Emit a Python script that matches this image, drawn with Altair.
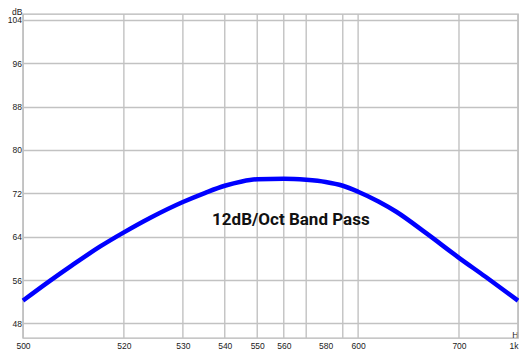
import altair as alt
import pandas as pd

# frequency position (log units) and response level in dB
freq = [1.0, 1.2, 1.4, 1.7, 2.0, 2.4, 3.0, 3.5, 4.0, 4.5, 5.0, 6.0, 7.0, 8.0, 9.0, 10.0, 11.5, 13.0, 16.0, 20.0, 24.0, 30.0]
level = [52.2, 55.8, 58.7, 62.2, 64.8, 67.5, 70.4, 72.1, 73.4, 74.2, 74.6, 74.7, 74.5, 74.1, 73.4, 72.3, 70.5, 68.6, 64.6, 60.1, 56.6, 52.2]

grid_x = [1, 2, 3, 4, 5, 6, 7, 9, 10, 20, 30]
tick_pos = [1, 2, 3, 4, 5, 6, 8, 10, 20, 30]
tick_text = ["500", "520", "530", "540", "550", "560", "580", "600", "700", "1k"]
y_ticks = [48, 56, 64, 72, 80, 88, 96, 104]

note_x = [6.3]
note_y = [67.0]
note_text = ["12dB/Oct Band Pass"]

curve_df = pd.DataFrame({"f": freq, "db": level})
grid_df = pd.DataFrame({"f": grid_x})
note_df = pd.DataFrame({"f": note_x, "db": note_y, "t": note_text})

expr = ""
for p, t in zip(tick_pos, tick_text):
    expr += f"datum.value == {p} ? '{t}' : "
expr += "''"

W, H = 495, 324
GRID = "#c2c2c2"
TXT = "#222222"
FONT = "Liberation Sans"
xs = alt.Scale(type="log", domain=[1, 30], nice=False)
ys = alt.Scale(domain=[45.3, 105.1], nice=False, zero=False)

x_axis = alt.Axis(values=tick_pos, labelExpr=expr, grid=False, ticks=False, domain=False,
                  labelFlush=False, labelOverlap=False, labelPadding=3, labelFontSize=8.5,
                  labelFont=FONT, labelColor=TXT,
                  labelAlign={"condition": {"test": "datum.value == 30", "value": "right"}, "value": "center"},
                  title="H", titleX=W, titleY=1, titleBaseline="bottom", titleAlign="right",
                  titleFontWeight="normal", titleFontSize=8.5, titleFont=FONT, titleColor=TXT)
y_axis = alt.Axis(values=y_ticks, grid=True, gridColor=GRID, gridWidth=1.4, ticks=False,
                  domain=False, labelPadding=1.5, labelFontSize=8.5, labelFont=FONT,
                  labelColor=TXT,
                  title="dB", titleAngle=0, titleX=-1, titleY=0.5, titleAlign="right",
                  titleBaseline="alphabetic", titleFontWeight="normal", titleFontSize=8.5,
                  titleFont=FONT, titleColor=TXT)

rules = alt.Chart(grid_df).mark_rule(color=GRID, strokeWidth=1.4).encode(
    x=alt.X("f:Q", scale=xs, axis=x_axis)
)

line = alt.Chart(curve_df).mark_line(color="#0000ff", strokeWidth=4.5, interpolate="monotone").encode(
    x=alt.X("f:Q", scale=xs, axis=x_axis),
    y=alt.Y("db:Q", scale=ys, axis=y_axis),
)

note = alt.Chart(note_df).mark_text(
    font="Roboto", fontWeight="bold", fontSize=17, align="center", baseline="middle", color="#111111"
).encode(
    x=alt.X("f:Q", scale=xs, axis=x_axis),
    y=alt.Y("db:Q", scale=ys, axis=y_axis),
    text="t:N",
)

chart = alt.layer(rules, line, note).properties(
    width=W, height=H,
    autosize=alt.AutoSizeParams(type="none"),
    padding={"left": 15, "top": 6, "right": 1, "bottom": 12},
).configure_view(stroke="#b5b5b5", strokeWidth=1.4)

chart.save("out.html", embed_options={"renderer": "svg", "actions": False})
